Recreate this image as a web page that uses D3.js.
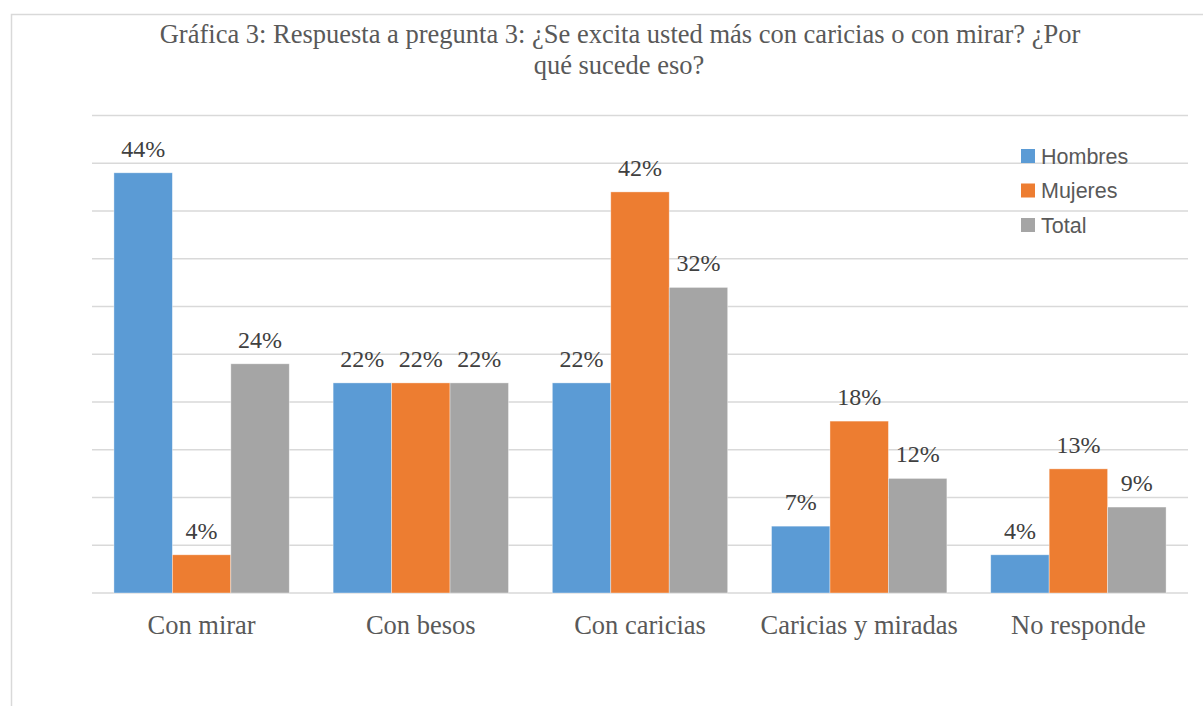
<!DOCTYPE html>
<html>
<head>
  <meta charset='utf-8'>
  <script src='https://d3js.org/d3.v7.min.js'></script>
  <style>
    body { margin: 0; background: #fff; }
    svg { display: block; }
  </style>
</head>
<body>
<script>
  // data
  var categories = ['Con mirar', 'Con besos', 'Con caricias', 'Caricias y miradas', 'No responde'];
  var seriesNames = ['Hombres', 'Mujeres', 'Total'];
  var hombres = [44, 22, 22, 7, 4];
  var mujeres = [4, 22, 42, 18, 13];
  var total = [24, 22, 32, 12, 9];
  var yTicks = [0, 5, 10, 15, 20, 25, 30, 35, 40, 45, 50];
  var colors = ['#5B9BD5', '#ED7D31', '#A5A5A5'];

  var W = 1203, H = 706;
  var serif = '"Liberation Serif", "Times New Roman", serif';
  var svg = d3.select('body').append('svg').attr('width', W).attr('height', H);

  // chart border (only top and left visible)
  svg.append('path')
    .attr('d', 'M11.5,' + H + ' V14.5 H' + W)
    .attr('fill', 'none').attr('stroke', '#D9D9D9').attr('stroke-width', 1.5);

  // title
  var title = svg.append('text')
    .attr('text-anchor', 'middle')
    .style('font-family', serif)
    .style('font-size', '26.5px')
    .style('fill', '#595959');
  title.append('tspan').attr('x', 620).attr('y', 43)
    .text('Gráfica 3: Respuesta a pregunta 3: ¿Se excita usted más con caricias o con mirar? ¿Por');
  title.append('tspan').attr('x', 619).attr('y', 74)
    .text('qué sucede eso?');

  var x0 = d3.scaleBand().domain(categories).range([92, 1188]).paddingInner(0.2).paddingOuter(0.1);
  var x1 = d3.scaleBand().domain(seriesNames).range([0, x0.bandwidth()]);
  var y = d3.scaleLinear().domain([0, 50]).range([593, 115.5]);

  // gridlines
  svg.append('g').selectAll('line').data(yTicks).enter().append('line')
    .attr('x1', 92).attr('x2', 1188)
    .attr('y1', function(d) { return y(d); })
    .attr('y2', function(d) { return y(d); })
    .attr('stroke', '#D9D9D9').attr('stroke-width', 1.5);

  var rows = categories.map(function(c, i) {
    return { cat: c, vals: [hombres[i], mujeres[i], total[i]] };
  });

  var groups = svg.append('g').selectAll('g').data(rows).enter().append('g')
    .attr('transform', function(d) { return 'translate(' + x0(d.cat) + ',0)'; });

  groups.selectAll('rect').data(function(d) {
      return d.vals.map(function(v, j) { return { s: seriesNames[j], v: v, j: j }; });
    }).enter().append('rect')
    .attr('x', function(d) { return x1(d.s); })
    .attr('width', x1.bandwidth())
    .attr('y', function(d) { return y(d.v); })
    .attr('height', function(d) { return y(0) - y(d.v); })
    .attr('fill', function(d) { return colors[d.j]; })
    .attr('stroke', '#ffffff').attr('stroke-opacity', 0.5).attr('stroke-width', 0.75);

  groups.selectAll('text').data(function(d) {
      return d.vals.map(function(v, j) { return { s: seriesNames[j], v: v }; });
    }).enter().append('text')
    .attr('x', function(d) { return x1(d.s) + x1.bandwidth() / 2; })
    .attr('y', function(d) { return y(d.v) - 16; })
    .attr('text-anchor', 'middle')
    .style('font-family', serif)
    .style('font-size', '24px')
    .style('fill', '#404040')
    .text(function(d) { return d.v + '%'; });

  // category labels
  svg.append('g').selectAll('text').data(categories).enter().append('text')
    .attr('x', function(d) { return x0(d) + x0.bandwidth() / 2; })
    .attr('y', 634)
    .attr('text-anchor', 'middle')
    .style('font-family', serif)
    .style('font-size', '26.5px')
    .style('fill', '#595959')
    .text(function(d) { return d; });

  // legend
  var legend = svg.append('g').selectAll('g').data(seriesNames).enter().append('g')
    .attr('transform', function(d, i) { return 'translate(1021,' + (149 + i * 34.5) + ')'; });
  legend.append('rect').attr('width', 14).attr('height', 14)
    .attr('fill', function(d, i) { return colors[i]; });
  legend.append('text').attr('x', 20).attr('y', 14.5)
    .style('font-family', '"Liberation Sans", Arial, sans-serif')
    .style('font-size', '21.5px')
    .style('fill', '#595959')
    .text(function(d) { return d; });
</script>
</body>
</html>
